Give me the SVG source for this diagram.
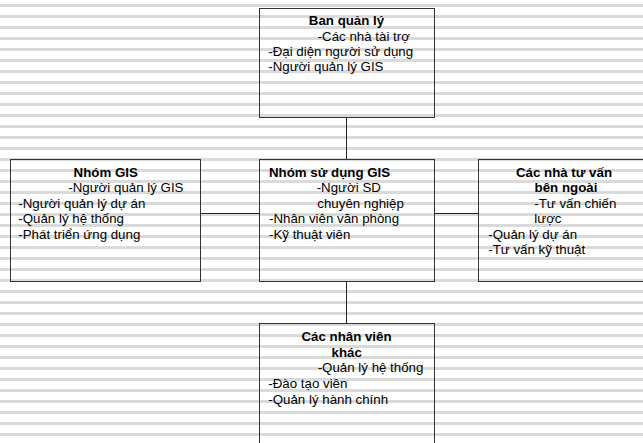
<svg xmlns="http://www.w3.org/2000/svg" width="643" height="443" viewBox="0 0 643 443">
<defs>
<pattern id="stripes" x="0" y="0" width="643" height="11" patternUnits="userSpaceOnUse">
<rect x="0" y="4" width="643" height="3" fill="#dadada"/>
</pattern>
</defs>
<style>
.box{fill:none;stroke:#333;stroke-width:1}
.conn{stroke:#222;stroke-width:1;fill:none}
text{font-family:"Liberation Sans",Arial,sans-serif;font-size:13.3px;fill:#000}
.t{font-weight:bold}
</style>
<rect x="0" y="0" width="643" height="443" fill="#fff"/>
<rect x="0" y="0" width="643" height="443" fill="url(#stripes)"/>
<g id="connectors">
<line class="conn" x1="346.5" y1="118" x2="346.5" y2="159"/>
<line class="conn" x1="201" y1="213.5" x2="259" y2="213.5"/>
<line class="conn" x1="434" y1="213.5" x2="478" y2="213.5"/>
<line class="conn" x1="346.5" y1="282" x2="346.5" y2="323"/>
</g>
<g id="ban-quan-ly">
<rect class="box" x="259.5" y="8.5" width="175" height="109"/>
<text class="t" x="346.5" y="25" text-anchor="middle">Ban quản lý</text>
<text x="317.7" y="40.5">-Các nhà tài trợ</text>
<text x="268.3" y="56">-Đại diện người sử dụng</text>
<text x="268.3" y="71.3">-Người quản lý GIS</text>
</g>
<g id="nhom-gis">
<rect class="box" x="10.5" y="159.5" width="190" height="122"/>
<text class="t" x="105.7" y="176.5" text-anchor="middle">Nhóm GIS</text>
<text x="68.3" y="192">-Người quản lý GIS</text>
<text x="18.3" y="207.5">-Người quản lý dự án</text>
<text x="18.3" y="223">-Quản lý hệ thống</text>
<text x="18.3" y="238.5">-Phát triển ứng dụng</text>
</g>
<g id="nhom-su-dung-gis">
<rect class="box" x="259.5" y="159.5" width="175" height="122"/>
<text class="t" x="269" y="176.7">Nhóm sử dụng GIS</text>
<text x="316.7" y="192.3">-Người SD</text>
<text x="317.3" y="207.7">chuyên nghiệp</text>
<text x="269" y="223.3">-Nhân viên văn phòng</text>
<text x="269" y="239">-Kỹ thuật viên</text>
</g>
<g id="nha-tu-van">
<rect class="box" x="478.5" y="159.5" width="175" height="122"/>
<text class="t" x="564" y="176.7" text-anchor="middle">Các nhà tư vấn</text>
<text class="t" x="566" y="192.3" text-anchor="middle">bên ngoài</text>
<text x="534.3" y="207.7">-Tư vấn chiến</text>
<text x="534.3" y="223.3">lược</text>
<text x="488.3" y="239">-Quản lý dự án</text>
<text x="488.3" y="254.3">-Tư vấn kỹ thuật</text>
</g>
<g id="nhan-vien-khac">
<rect class="box" x="259.5" y="323.5" width="175" height="130"/>
<text class="t" x="346.5" y="341" text-anchor="middle">Các nhân viên</text>
<text class="t" x="346.7" y="356.7" text-anchor="middle">khác</text>
<text x="317.7" y="372.3">-Quản lý hệ thống</text>
<text x="268.3" y="388">-Đào tạo viên</text>
<text x="268.3" y="403.7">-Quản lý hành chính</text>
</g>
</svg>
